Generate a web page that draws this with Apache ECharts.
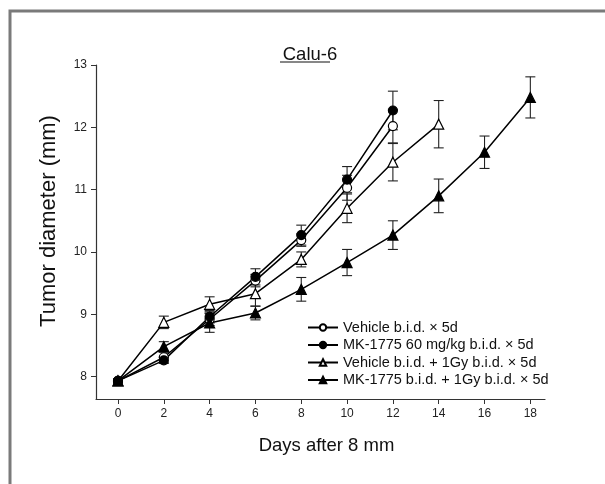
<!DOCTYPE html>
<html>
<head>
<meta charset="utf-8">
<script src="https://cdn.jsdelivr.net/npm/echarts@6/dist/echarts.min.js"></script>
<style>
html,body{margin:0;padding:0;background:#fff;}
#c{width:605px;height:484px;}
</style>
</head>
<body>
<div id="c"></div>
<script>
// ---- data ----
const titleText = 'Calu-6';
const xName = 'Days after 8 mm';
const yName = 'Tumor diameter (mm)';
const xTicks = [0, 2, 4, 6, 8, 10, 12, 14, 16, 18];
const yTicks = [8, 9, 10, 11, 12, 13];

const seriesNames = [
  'Vehicle b.i.d. \u00d7 5d',
  'MK-1775 60 mg/kg b.i.d. \u00d7 5d',
  'Vehicle b.i.d. + 1Gy b.i.d. \u00d7 5d',
  'MK-1775 b.i.d. + 1Gy b.i.d. \u00d7 5d'
];

const daysVehicle = [0, 2, 4, 6, 8, 10, 12];
const meanVehicle = [7.93, 8.31, 8.92, 9.54, 10.19, 11.03, 12.02];
const errVehicle  = [0.03, 0.08, 0.1, 0.1, 0.1, 0.2, 0.27];

const daysMK = [0, 2, 4, 6, 8, 10, 12];
const meanMK = [7.93, 8.26, 8.96, 9.6, 10.27, 11.16, 12.27];
const errMK  = [0.03, 0.05, 0.1, 0.13, 0.16, 0.21, 0.31];

const daysVehIR = [0, 2, 4, 6, 8, 10, 12, 14];
const meanVehIR = [7.93, 8.87, 9.16, 9.33, 9.88, 10.7, 11.44, 12.05];
const errVehIR  = [0.03, 0.1, 0.12, 0.2, 0.12, 0.23, 0.3, 0.38];

const daysMKIR = [0, 2, 4, 6, 8, 10, 12, 14, 16, 18];
const meanMKIR = [7.93, 8.48, 8.86, 9.02, 9.4, 9.83, 10.27, 10.9, 11.6, 12.48];
const errMKIR  = [0.03, 0.08, 0.15, 0.11, 0.19, 0.21, 0.23, 0.27, 0.26, 0.33];

// ---- build ----
const groups = [
  {days: daysVehicle, mean: meanVehicle, err: errVehicle, symbol: 'circle', size: 9, fill: '#fff'},
  {days: daysMK, mean: meanMK, err: errMK, symbol: 'circle', size: 9, fill: '#000'},
  {days: daysVehIR, mean: meanVehIR, err: errVehIR, symbol: 'triangle', size: 10, fill: '#fff'},
  {days: daysMKIR, mean: meanMKIR, err: errMKIR, symbol: 'triangle', size: 10, fill: '#000'}
];

const series = [];
groups.forEach(function (g, i) {
  series.push({
    type: 'custom',
    name: seriesNames[i] + '_err',
    z: 1,
    silent: true,
    data: g.days.map(function (d, k) { return [d, g.mean[k], g.err[k]]; }),
    renderItem: function (params, api) {
      const x = api.value(0), y = api.value(1), e = api.value(2);
      const top = api.coord([x, y + e]);
      const bot = api.coord([x, y - e]);
      const w = 5;
      const st = {stroke: '#222', lineWidth: 1.1};
      return {
        type: 'group',
        children: [
          {type: 'line', shape: {x1: top[0], y1: top[1], x2: bot[0], y2: bot[1]}, style: st},
          {type: 'line', shape: {x1: top[0] - w, y1: top[1], x2: top[0] + w, y2: top[1]}, style: st},
          {type: 'line', shape: {x1: bot[0] - w, y1: bot[1], x2: bot[0] + w, y2: bot[1]}, style: st}
        ]
      };
    }
  });
  series.push({
    type: 'line',
    name: seriesNames[i],
    z: 3,
    data: g.days.map(function (d, k) { return [d, g.mean[k]]; }),
    symbol: g.symbol,
    symbolSize: g.size,
    showAllSymbol: true,
    lineStyle: {color: '#000', width: 1.5},
    itemStyle: {color: g.fill, borderColor: '#000', borderWidth: 1.2},
    emphasis: {disabled: true},
    animation: false
  });
});

const chart = echarts.init(document.getElementById('c'), null, {renderer: 'canvas'});
chart.setOption({
  animation: false,
  backgroundColor: '#fff',
  textStyle: {fontFamily: 'Liberation Sans, Arial, sans-serif'},
  title: {
    text: titleText,
    left: 305, top: 40,
    textAlign: 'center',
    textStyle: {fontSize: 18.5, fontWeight: 'normal', color: '#111', fontFamily: 'Liberation Sans'}
  },
  legend: {
    data: seriesNames,
    orient: 'vertical',
    left: 302, top: 315,
    itemWidth: 30, itemHeight: 8, itemGap: 2.5,
    textStyle: {fontSize: 14.5, color: '#111', fontFamily: 'Liberation Sans'},
    selectedMode: false
  },
  grid: {left: 96, right: 60, top: 65, bottom: 85},
  xAxis: {
    type: 'value',
    min: -0.96, max: 18.64,
    name: xName,
    nameLocation: 'middle',
    nameGap: 37,
    nameTextStyle: {fontSize: 18.5, color: '#111', fontFamily: 'Liberation Sans', padding: [0, 0, 0, 12]},
    splitLine: {show: false},
    axisLine: {onZero: false, lineStyle: {color: '#333', width: 1.2}},
    axisTick: {customValues: xTicks, length: 5, lineStyle: {color: '#333'}},
    axisLabel: {customValues: xTicks, fontSize: 12, color: '#222', margin: 9, fontFamily: 'Liberation Sans'}
  },
  yAxis: {
    type: 'value',
    min: 7.64, max: 13,
    name: yName,
    nameLocation: 'middle',
    nameGap: 36,
    nameTextStyle: {fontSize: 22, color: '#111', fontFamily: 'Liberation Sans', padding: [0, 0, 0, 22]},
    splitLine: {show: false},
    axisLine: {show: true, onZero: false, lineStyle: {color: '#333', width: 1.2}},
    axisTick: {customValues: yTicks, length: 5, lineStyle: {color: '#333'}},
    axisLabel: {customValues: yTicks, fontSize: 12, color: '#222', margin: 9, fontFamily: 'Liberation Sans'}
  },
  graphic: [
    {type: 'polyline', shape: {points: [[10, 484], [10, 11], [605, 11]]}, style: {stroke: '#7a7a7a', lineWidth: 3, fill: null}, z: 10},
    {type: 'line', shape: {x1: 280, y1: 62, x2: 330, y2: 62}, style: {stroke: '#111', lineWidth: 1.2}, z: 10}
  ],
  series: series
});
</script>
</body>
</html>
